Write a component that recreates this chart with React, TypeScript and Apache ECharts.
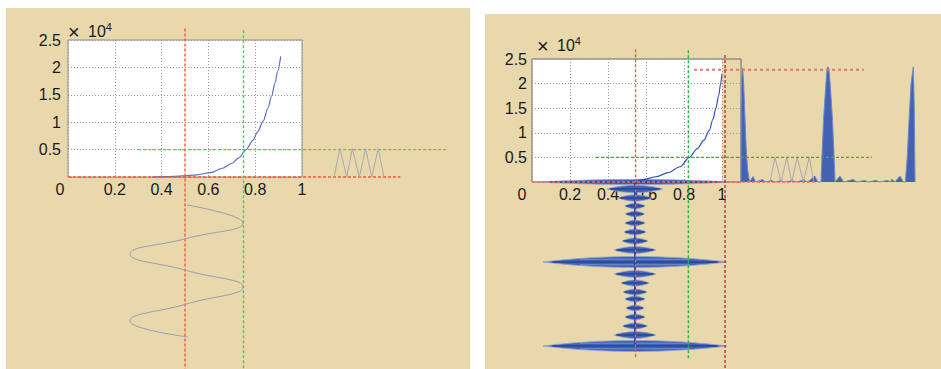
import React, { useEffect, useRef } from "react";
import * as echarts from "echarts";

// ---------- tick labels ----------
const yTicks = [0, 0.5, 1, 1.5, 2, 2.5];
const xTicks = [0, 0.2, 0.4, 0.6, 0.8, 1];
const scaleNote = "{x|×}  {t|10}{s|4}";

// ---------- left panel (values in units of 10^4) ----------
const leftCurve = [
  [0.36, 0], [0.42, 0.006], [0.49, 0.02], [0.55, 0.04], [0.61, 0.08], [0.66, 0.16],
  [0.7, 0.25], [0.73, 0.35], [0.761, 0.5], [0.79, 0.67], [0.81, 0.82], [0.835, 1.03],
  [0.855, 1.26], [0.87, 1.48], [0.885, 1.72], [0.896, 1.93], [0.909, 2.2],
];
const leftRedV = [[0.5, 2.71], [0.5, -3.5]];
const leftGreenV = [[0.75, 2.68], [0.75, -3.5]];
const leftRedH = [[0, 0], [1.42, 0]];
const leftGreenH = [[0.3, 0.5], [1.624, 0.5]];
const leftSideWave = [
  [1.137, 0], [1.162, 0.52], [1.191, 0], [1.215, 0.52], [1.245, 0], [1.272, 0.52],
  [1.298, 0], [1.326, 0.52], [1.35, 0],
];
const leftDownWave = [
  [0.509, -0.511], [0.748, -0.839], [0.506, -1.122], [0.265, -1.405], [0.506, -1.706],
  [0.748, -2.007], [0.506, -2.318], [0.265, -2.628], [0.513, -2.92],
];

// ---------- right panel ----------
const rightCurve = [
  [0.45, 0], [0.52, 0.02], [0.585, 0.05], [0.656, 0.11], [0.716, 0.19], [0.779, 0.31],
  [0.828, 0.5], [0.87, 0.68], [0.905, 0.85], [0.933, 1.05], [0.952, 1.27], [0.968, 1.5],
  [0.982, 1.75], [0.993, 2.0], [1.0, 2.2],
];
const rightRedV = [[0.545, 2.7], [0.545, -3.56]];
const rightGreenV = [[0.823, 2.68], [0.823, -3.58]];
const rightDarkRedV = [[1.016, 2.58], [1.016, -3.8]];
const rightTopRedH = [[0.853, 2.28], [1.747, 2.28]];
const rightGreenH = [[0.337, 0.5], [1.79, 0.5]];
const rightRedH = [[0, 0], [1.5, 0]];
const rightSideWave = [
  [1.253, 0], [1.279, 0.5], [1.311, 0], [1.341, 0.5], [1.367, 0], [1.396, 0.5],
  [1.428, 0], [1.459, 0.5], [1.484, 0],
];
const spectrum = [
  [1.1, 0], [1.101, 1.5], [1.104, 2.1], [1.109, 2.32], [1.114, 2.0], [1.12, 1.4], [1.127, 0.7],
  [1.135, 0.25], [1.145, 0],
  [1.163, 0.11], [1.178, 0], [1.214, 0.05], [1.23, 0], [1.26, 0.03], [1.28, 0], [1.31, 0.03],
  [1.33, 0], [1.37, 0.03], [1.39, 0], [1.43, 0.04], [1.45, 0], [1.489, 0.12], [1.505, 0],
  [1.521, 0], [1.527, 0.6], [1.535, 1.3], [1.545, 1.9], [1.553, 2.3], [1.558, 2.34],
  [1.563, 2.3], [1.571, 1.9], [1.581, 1.3], [1.589, 0.6], [1.595, 0],
  [1.621, 0.12], [1.64, 0], [1.69, 0.05], [1.71, 0], [1.75, 0.03],
  [1.77, 0], [1.81, 0.03], [1.83, 0], [1.87, 0.03], [1.89, 0], [1.893, 0.06], [1.91, 0],
  [1.937, 0.12], [1.955, 0],
  [1.965, 0], [1.975, 0.5], [1.985, 1.3], [1.995, 2.0], [2.007, 2.34], [2.012, 1.5], [2.016, 0],
];
const fftCenterX = 0.542;
const fftLobeY = [
  0, -0.142, -0.325, -0.488, -0.65, -0.833, -1.016, -1.199, -1.382, -1.626,
  -1.87, -2.053, -2.236, -2.378, -2.561, -2.744, -2.927, -3.11, -3.333,
];
const fftLobeHalfWidth = [
  0.5, 0.147, 0.089, 0.053, 0.05, 0.053, 0.058, 0.068, 0.11, 0.484,
  0.11, 0.074, 0.063, 0.053, 0.047, 0.053, 0.066, 0.11, 0.484,
];
const fftStem = [[fftCenterX, 0], [fftCenterX, -3.34]];

const FONT = "'Liberation Sans', Arial, Helvetica, sans-serif";
const INK = "#1a1a1a";
const fmt = (v: number) => String(Number(v.toFixed(1)));

// overlay axes (same scale as the visible axes, extended over the whole panel)
const L_OV = { xMax: 1.7, yMin: -3.5, yMax: 2.75 };
const R_OV = { xMax: 2.05, yMin: -3.8, yMax: 2.8 };

const GREEN = "#22b83c";
const GREEN_L = "#55c85a";
const LW = 1.4;

function yAxisDef(grid: number, margin: number) {
  return {
    gridIndex: grid,
    type: "value",
    min: yTicks[0],
    max: yTicks[yTicks.length - 1],
    interval: 0.5,
    axisLine: { show: false },
    axisTick: { show: false },
    splitLine: { show: true, lineStyle: { color: "#9a9a9a", type: [1, 2], width: 1 } },
    axisLabel: {
      color: INK,
      fontSize: 16,
      fontFamily: FONT,
      margin,
      formatter: (v: number) => (v === 0 ? "" : fmt(v)),
    },
  };
}

function xAxisDef(grid: number, max: number, zeroShift: number) {
  return {
    gridIndex: grid,
    type: "value",
    min: xTicks[0],
    max,
    interval: 0.2,
    axisLine: { show: false },
    axisTick: { show: false },
    splitLine: { show: true, lineStyle: { color: "#9a9a9a", type: [1, 2], width: 1 } },
    axisLabel: {
      color: INK,
      fontSize: 16,
      fontFamily: FONT,
      margin: 4,
      showMaxLabel: max === 1,
      formatter: (v: number) => (v === 0 ? "{z|0}" : fmt(v)),
      rich: { z: { fontSize: 16, fontFamily: FONT, color: INK, padding: [0, zeroShift, 0, 0] } },
    },
  };
}

function noteTitle(left: number, top: number) {
  return {
    text: scaleNote,
    left,
    top,
    padding: 0,
    textStyle: {
      color: INK,
      fontFamily: FONT,
      fontSize: 15,
      fontWeight: "normal",
      rich: {
        x: { fontSize: 20, fontFamily: FONT, color: INK, fontWeight: "normal" },
        t: { fontSize: 16, fontFamily: FONT, color: INK, fontWeight: "normal" },
        s: { fontSize: 11, fontFamily: FONT, color: INK, fontWeight: "normal", padding: [0, 0, 10, 0] },
      },
    },
  };
}

function dashed(data: number[][], color: string, ai: number, width = LW, dash: number[] = [3, 2]) {
  return {
    type: "line",
    xAxisIndex: ai,
    yAxisIndex: ai,
    data,
    clip: false,
    symbol: "none",
    silent: true,
    lineStyle: { color, width, type: dash },
  };
}

function plain(data: number[][], color: string, ai: number, width = 1, smooth: any = false) {
  return {
    type: "line",
    xAxisIndex: ai,
    yAxisIndex: ai,
    data,
    clip: false,
    symbol: "none",
    silent: true,
    smooth,
    smoothMonotone: smooth === 0.5 ? undefined : "x",
    lineStyle: { color, width },
  };
}

export default function App() {
  const ref = useRef<HTMLDivElement>(null);
  useEffect(() => {
    if (!ref.current) return;
    const chart = echarts.init(ref.current, undefined, { renderer: "svg" });
    const lobes = fftLobeY.map((y, i) => [fftCenterX, y, fftLobeHalfWidth[i]]);
    const LPX = 234, LPY = 54.8, RPX = 190, RPY = 49.2;
    const option: any = {
      animation: false,
      backgroundColor: "#ffffff",
      title: [noteTitle(68, 21), noteTitle(537, 35)],
      graphic: {
        elements: [
          { type: "rect", z: -10, shape: { x: 6, y: 8, width: 464, height: 365 }, style: { fill: "#e8d8ab" } },
          { type: "rect", z: -10, shape: { x: 485, y: 14, width: 456, height: 360 }, style: { fill: "#e8d8ab" } },
        ],
      },
      grid: [
        { left: 68, top: 40, width: LPX, height: 137, show: true, backgroundColor: "#ffffff", borderColor: "#8c8c8c", borderWidth: 1 },
        { left: 532, top: 59, width: RPX, height: 123, show: true, backgroundColor: "#ffffff", borderWidth: 0, z: -1 },
        { left: 532, top: 59, width: RPX * 1.1, height: 123, show: true, backgroundColor: "transparent", borderColor: "#6a6a6a", borderWidth: 1 },
        { left: 68, top: 177 - LPY * L_OV.yMax, width: LPX * L_OV.xMax, height: LPY * (L_OV.yMax - L_OV.yMin), show: false },
        { left: 532, top: 182 - RPY * R_OV.yMax, width: RPX * R_OV.xMax, height: RPY * (R_OV.yMax - R_OV.yMin), show: false },
      ],
      xAxis: [
        xAxisDef(0, 1, 16),
        { gridIndex: 1, type: "value", show: false, min: 0, max: 1 },
        xAxisDef(2, 1.1, 20),
        { gridIndex: 3, type: "value", show: false, min: 0, max: L_OV.xMax },
        { gridIndex: 4, type: "value", show: false, min: 0, max: R_OV.xMax },
      ],
      yAxis: [
        yAxisDef(0, 7),
        { gridIndex: 1, type: "value", show: false, min: 0, max: 2.5 },
        yAxisDef(2, 5),
        { gridIndex: 3, type: "value", show: false, min: L_OV.yMin, max: L_OV.yMax },
        { gridIndex: 4, type: "value", show: false, min: R_OV.yMin, max: R_OV.yMax },
      ],
      series: [
        // ----- left panel -----
        plain(leftCurve, "#5b6fc6", 3, 1.2, 0.3),
        dashed(leftGreenH, GREEN_L, 3),
        dashed(leftRedH, "#f25a32", 3),
        dashed(leftRedV, "#f25a32", 3),
        dashed(leftGreenV, GREEN_L, 3),
        plain(leftSideWave, "#a9a9b4", 3, 1),
        plain(leftDownWave, "#9c9cb2", 3, 1, 0.5),
        // ----- right panel -----
        {
          type: "custom",
          coordinateSystem: "cartesian2d",
          xAxisIndex: 4,
          yAxisIndex: 4,
          clip: false,
          silent: true,
          data: lobes,
          encode: { x: 0, y: 1 },
          renderItem: (params: any, api: any) => {
            const cx = api.value(0);
            const cy = api.value(1);
            const hw = api.value(2);
            const c = api.coord([cx, cy]);
            const r = api.coord([cx + hw, cy]);
            const w = r[0] - c[0];
            const big = w > 50;
            const h = params.dataIndex === 0 ? 2.6 : big ? 5.5 : Math.min(4, 2.3 + w * 0.05);
            const up: number[][] = [];
            const down: number[][] = [];
            for (let i = 0; i <= 40; i++) {
              const t = -1 + i / 20;
              const p = 1 - t * t;
              up.push([c[0] + w * t, c[1] - h * p]);
              down.push([c[0] + w * t, c[1] + h * p]);
            }
            const pts = up.concat(down.reverse());
            const children: any[] = [
              { type: "polygon", shape: { points: pts }, style: { fill: "#4062b5", stroke: "#90a3d3", lineWidth: 0.8 } },
              { type: "line", shape: { x1: c[0] - w * 0.9, y1: c[1], x2: c[0] + w * 0.9, y2: c[1] }, style: { stroke: "#1c3887", lineWidth: 1 } },
            ];
            if (big && params.dataIndex !== 0) {
              children.push(
                { type: "line", shape: { x1: c[0] - w * 0.6, y1: c[1] - h * 0.5, x2: c[0] + w * 0.6, y2: c[1] - h * 0.5 }, style: { stroke: "#7f97d0", lineWidth: 0.8 } },
                { type: "line", shape: { x1: c[0] - w * 0.6, y1: c[1] + h * 0.5, x2: c[0] + w * 0.6, y2: c[1] + h * 0.5 }, style: { stroke: "#7f97d0", lineWidth: 0.8 } },
              );
            }
            return { type: "group", children };
          },
        },
        plain(fftStem, "#2b4a9e", 4, 2),
        {
          type: "line",
          xAxisIndex: 4,
          yAxisIndex: 4,
          data: spectrum,
          clip: false,
          symbol: "none",
          silent: true,
          lineStyle: { color: "#6f88c8", width: 1 },
          areaStyle: { color: "#3a5cb2", opacity: 0.95, origin: 0 },
        },
        plain(rightSideWave, "#a8a8b6", 4, 1),
        plain(rightCurve, "#3353b2", 4, 1.2, 0.3),
        dashed(rightGreenH, GREEN, 4),
        dashed(rightRedH, "#f07060", 4),
        dashed(rightTopRedH, "#e07474", 4, 2, [3, 3]),
        dashed(rightRedV, "#ee5a48", 4),
        dashed(rightGreenV, GREEN, 4),
        dashed(rightDarkRedV, "#c4302a", 4),
      ],
    };
    chart.setOption(option);
    return () => chart.dispose();
  }, []);
  return (
    <div
      ref={ref}
      style={{ position: "fixed", left: 0, top: 0, width: 941, height: 369 }}
    />
  );
}
